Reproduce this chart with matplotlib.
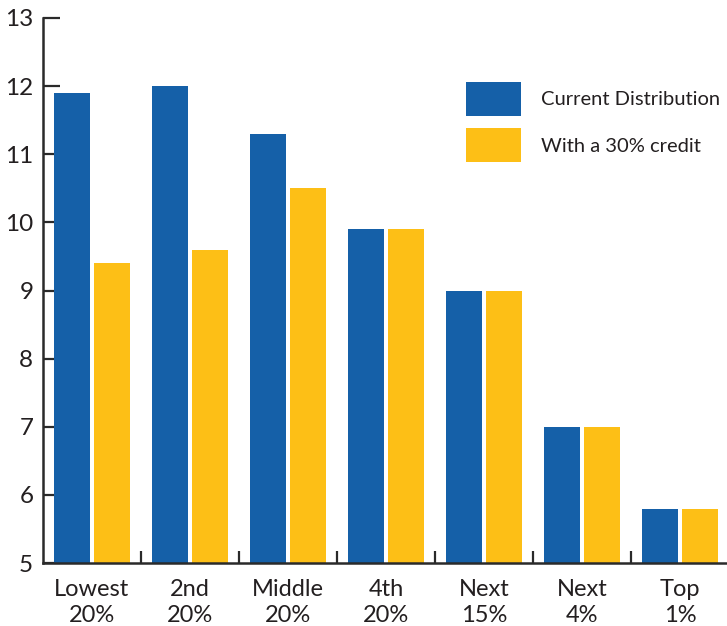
import matplotlib
matplotlib.use("Agg")
import matplotlib.pyplot as plt
import numpy as np

# data
groups = ["Lowest\n20%", "2nd\n20%", "Middle\n20%", "4th\n20%", "Next\n15%", "Next\n4%", "Top\n1%"]
current = [11.9, 12.0, 11.3, 9.9, 9.0, 7.0, 5.8]
credit = [9.4, 9.6, 10.5, 9.9, 9.0, 7.0, 5.8]
series_names = ["Current Distribution", "With a 30% credit"]
yticks = [5, 6, 7, 8, 9, 10, 11, 12, 13]

blue = "#1560a8"
yellow = "#fdbf16"
ink = "#231f20"

plt.rcParams["font.family"] = ["Lato", "DejaVu Sans"]

W, H = 727, 626
fig = plt.figure(figsize=(W / 100, H / 100), dpi=100)
ax = fig.add_axes([43 / W, 63 / H, 686 / W, 545 / H])

x = np.arange(len(groups))
ax.bar(x - 0.2, current, width=0.367, bottom=0, color=blue, label=series_names[0], zorder=2)
ax.bar(x + 0.2, credit, width=0.367, bottom=0, color=yellow, label=series_names[1], zorder=2)

ax.set_xlim(-0.5, len(groups) - 0.5)
ax.set_ylim(5, 13)

for s in ["top", "right"]:
    ax.spines[s].set_visible(False)
for s in ["left", "bottom"]:
    ax.spines[s].set_linewidth(1.8)
    ax.spines[s].set_color("#2a2a2a")
    ax.spines[s].set_zorder(3)

# y ticks point inward
ax.set_yticks(yticks)
ax.tick_params(axis="y", direction="in", length=12, width=1.6, color="#2a2a2a",
               pad=7, labelsize=17.5, labelcolor=ink)

# x: boundary ticks (major, no labels) and centred labels (minor)
ax.set_xticks(list(x[1:] - 0.5) + [len(groups) - 0.5])
ax.set_xticklabels([])
ax.set_xticks(x, minor=True)
ax.set_xticklabels(groups, minor=True, linespacing=1.32)
ax.tick_params(axis="x", which="major", direction="in", length=9, width=1.6, color="#2a2a2a")
ax.tick_params(axis="x", which="minor", length=0, pad=11.5, labelsize=17, labelcolor=ink)
ax.set_axisbelow(True)

leg = ax.legend(loc="upper left", bbox_to_anchor=(466 / W, 1 - 82 / H),
                bbox_transform=fig.transFigure, frameon=False,
                borderpad=0, borderaxespad=0, fontsize=14.5,
                handlelength=2.75, handleheight=2.23, labelspacing=0.6,
                handletextpad=0.95)
for t in leg.get_texts():
    t.set_color(ink)

fig.savefig("out.png", dpi=100)
